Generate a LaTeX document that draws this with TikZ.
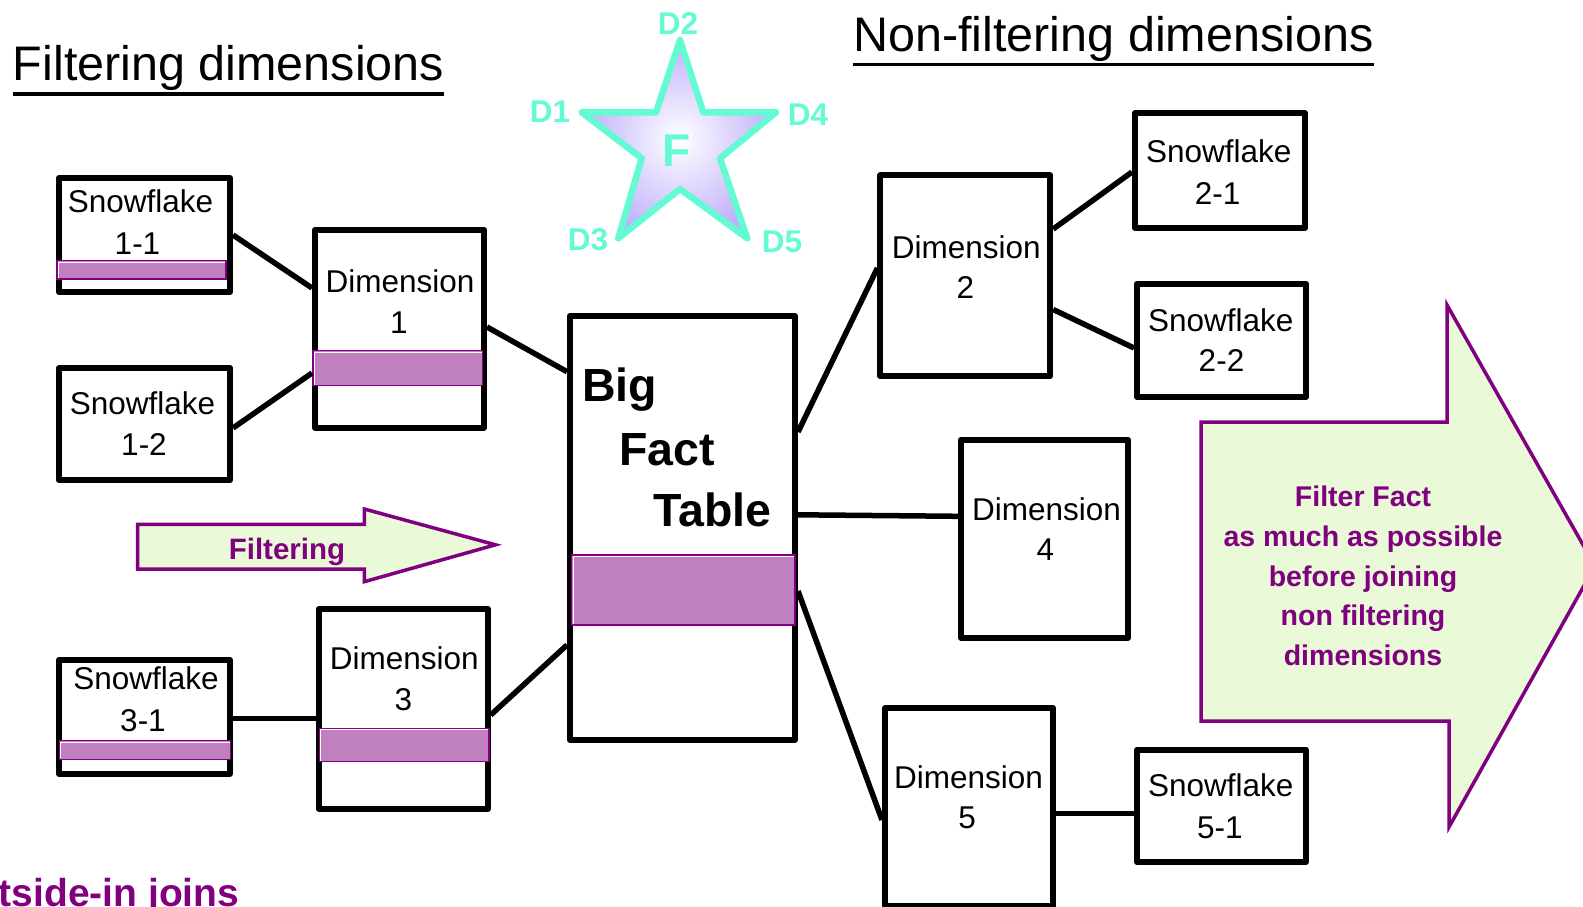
\documentclass[tikz,border=0pt]{standalone}
\usepackage{fontspec}
\setmainfont{Liberation Sans}
\usetikzlibrary{calc}
\definecolor{barfill}{RGB}{192,128,192}
\definecolor{plum}{RGB}{128,0,128}
\definecolor{mint}{RGB}{234,250,216}
\definecolor{aqua}{RGB}{100,250,212}
\definecolor{lav}{RGB}{192,176,250}
\tikzset{
  box/.style={draw=black, fill=white, line width=6pt, line join=round, inner sep=0pt},
  conn/.style={draw=black, line width=5.5pt},
  bar/.style={draw=plum, fill=barfill, line width=1.5pt},
  hilite/.style={draw=white, line width=1pt},
  lbl/.style={inner sep=0pt, anchor=base, font=\fontsize{31.5}{31.5}\selectfont},
  title/.style={inner sep=0pt, anchor=base west, font=\fontsize{48.5}{48.5}\selectfont},
  uline/.style={draw=black, line width=3.3pt},
  dlabel/.style={inner sep=0pt, text=aqua, font=\bfseries\fontsize{31.5}{31.5}\selectfont},
  note/.style={inner sep=0pt, text=plum, font=\bfseries\fontsize{28.5}{39.6}\selectfont, align=center},
  fatarrow/.style={draw=plum, fill=mint, line width=3.5pt, line join=miter},
  facttext/.style={inner sep=0pt, anchor=base west, font=\bfseries\fontsize{46.5}{46.5}\selectfont}
}
\begin{document}
\begin{tikzpicture}[x=1pt, y=-1pt]
\useasboundingbox (0,0) rectangle (1583,907);

% titles
\node[title] (tf) at (12.7,81) {Filtering dimensions};
\draw[uline] ($(tf.base west)+(0,13)$) -- ($(tf.base east)+(0,13)$);
\node[title] (tn) at (853,51.5) {Non-filtering dimensions};
\draw[uline] ($(tn.base west)+(0,13)$) -- ($(tn.base east)+(0,13)$);

% star schema symbol
\shadedraw[inner color=white, outer color=lav, draw=aqua, line width=6.5pt, line join=round]
  (680,40) -- (703.3,112.3) -- (776,112.3) -- (720,158.3) -- (747.3,238.3)
  -- (680,189) -- (618.3,238.3) -- (641.7,158.3) -- (581.7,112.3) -- (656,112.3) -- cycle;
\node[dlabel, font=\bfseries\fontsize{46}{46}\selectfont] (sF) at (677,150.5) {F};
\node[dlabel] (sD2) at (678,23.5) {D2};
\node[dlabel] (sD1) at (550,112) {D1};
\node[dlabel] (sD4) at (808,115) {D4};
\node[dlabel] (sD3) at (588,240) {D3};
\node[dlabel] (sD5) at (782,241.5) {D5};

% filtering arrow
\draw[fatarrow] (137.5,524.3) -- (364.3,524.3) -- (364.3,509) -- (495.5,544.8)
  -- (364.3,581.7) -- (364.3,569) -- (137.5,569) -- cycle;
\node[note, font=\bfseries\fontsize{29.5}{29.5}\selectfont, anchor=base] (filt) at (287,559) {Filtering};

% big arrow with note
\draw[fatarrow] (1201,422) -- (1447,422) -- (1447,305) -- (1595,566)
  -- (1449,827) -- (1449,721) -- (1201,721) -- cycle;
\node[note] (bignote) at (1363,576) {Filter Fact\\as much as possible\\before joining\\non filtering\\dimensions};

% boxes
\node[box, minimum width=171pt, minimum height=114pt] (sf11) at (144.5,235) {};
\node[box, minimum width=169pt, minimum height=198pt] (d1) at (399.5,328.7) {};
\node[box, minimum width=171pt, minimum height=112.3pt] (sf12) at (144.5,424.2) {};
\node[box, minimum width=169pt, minimum height=199.7pt] (d3) at (403.2,708.9) {};
\node[box, minimum width=170.7pt, minimum height=114pt] (sf31) at (144.4,716.7) {};
\node[box, minimum width=225pt, minimum height=424.3pt] (fact) at (682.5,527.9) {};
\node[box, minimum width=169.8pt, minimum height=200.7pt] (d2) at (965.3,275.7) {};
\node[box, minimum width=170pt, minimum height=115pt] (sf21) at (1220,170.5) {};
\node[box, minimum width=169pt, minimum height=113.3pt] (sf22) at (1221.5,340.4) {};
\node[box, minimum width=167pt, minimum height=198pt] (d4) at (1044.5,538.7) {};
\node[box, minimum width=168pt, minimum height=198pt] (d5) at (969,807) {};
\node[box, minimum width=169pt, minimum height=112.3pt] (sf51) at (1221.5,805.9) {};

% filter bars
\draw[bar] (57,260.7) rectangle (226,279);
\draw[hilite] (58.5,278) -- (58.5,262.2) -- (225,262.2);
\draw[bar] (313,350.7) rectangle (482.7,385.7);
\draw[hilite] (314.5,384.7) -- (314.5,352.2) -- (481.7,352.2);
\draw[bar] (571.7,555) rectangle (795,625);
\draw[hilite] (573.2,624) -- (573.2,556.5) -- (794,556.5);
\draw[bar] (59.3,740.7) rectangle (230.7,759.3);
\draw[hilite] (60.8,758.3) -- (60.8,742.2) -- (229.7,742.2);
\draw[bar] (319.3,728.3) rectangle (489,761.7);
\draw[hilite] (320.8,760.7) -- (320.8,729.8) -- (488,729.8);

% box texts
\node[lbl] (sf11a) at (140.5,212.7) {Snowflake};
\node[lbl] (sf11b) at (137.5,254.3) {1-1};
\node[lbl] (d1a) at (400,292.3) {Dimension};
\node[lbl] (d1b) at (399,333.3) {1};
\node[lbl] (sf12a) at (142.5,414) {Snowflake};
\node[lbl] (sf12b) at (144,455) {1-2};
\node[lbl] (sf31a) at (146,689) {Snowflake};
\node[lbl] (sf31b) at (143,731.7) {3-1};
\node[lbl] (d3a) at (404.3,669) {Dimension};
\node[lbl] (d3b) at (403.3,710) {3};
\node[lbl] (d2a) at (966.3,258.3) {Dimension};
\node[lbl] (d2b) at (965.4,298.3) {2};
\node[lbl] (sf21a) at (1218.8,162.7) {Snowflake};
\node[lbl] (sf21b) at (1217.6,204) {2-1};
\node[lbl] (sf22a) at (1220.8,331.7) {Snowflake};
\node[lbl] (sf22b) at (1221.5,371.7) {2-2};
\node[lbl] (d4a) at (1046.6,520) {Dimension};
\node[lbl] (d4b) at (1045.4,560) {4};
\node[lbl] (d5a) at (968.5,788.3) {Dimension};
\node[lbl] (d5b) at (967,828.3) {5};
\node[lbl] (sf51a) at (1220.8,796.7) {Snowflake};
\node[lbl] (sf51b) at (1219.8,838.3) {5-1};

\node[facttext] (fbig) at (582,401.7) {Big};
\node[facttext] (ffact) at (619,465) {Fact};
\node[facttext] (ftable) at (653,526.7) {Table};

% joins
\draw[conn] (sf11.east |- 0,235) -- (d1.west |- 0,288);
\draw[conn] (sf12.east |- 0,428) -- (d1.west |- 0,373);
\draw[conn] (d1.east |- 0,327) -- (fact.west |- 0,371.7);
\draw[conn] (sf31.east |- 0,718.3) -- (d3.west |- 0,718.3);
\draw[conn] (d3.east |- 0,715) -- (fact.west |- 0,645);
\draw[conn] (fact.east |- 0,432) -- (d2.west |- 0,268);
\draw[conn] (d2.east |- 0,229) -- (sf21.west |- 0,172);
\draw[conn] (d2.east |- 0,309.5) -- (sf22.west |- 0,348);
\draw[conn] (fact.east |- 0,514.8) -- (d4.west |- 0,516.3);
\draw[conn] (fact.east |- 0,591) -- (d5.west |- 0,820);
\draw[conn] (d5.east |- 0,813.3) -- (sf51.west |- 0,813.3);

% caption at the foot
\node[inner sep=0pt, anchor=base east, text=plum, font=\bfseries\fontsize{39}{39}\selectfont] (outin) at (239.5,906) {Outside-in joins};
\end{tikzpicture}
\end{document}
